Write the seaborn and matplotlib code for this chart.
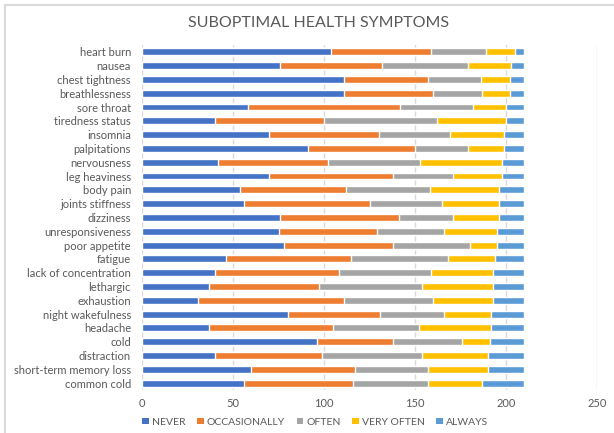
import matplotlib
matplotlib.use("Agg")
import matplotlib.pyplot as plt
import numpy as np
import pandas as pd
import seaborn as sns
from matplotlib.lines import Line2D
from matplotlib.patches import Patch

symptoms = [
    "heart burn", "nausea", "chest tightness", "breathlessness", "sore throat",
    "tiredness status", "insomnia", "palpitations", "nervousness", "leg heaviness",
    "body pain", "joints stiffness", "dizziness", "unresponsiveness", "poor appetite",
    "fatigue", "lack of concentration", "lethargic", "exhaustion", "night wakefulness",
    "headache", "cold", "distraction", "short-term memory loss", "common cold",
]
never = [104, 76, 111, 111, 58, 40, 70, 91, 42, 70, 54, 56, 76, 75, 78,
         46, 40, 37, 31, 80, 37, 96, 40, 60, 56]
occasionally = [55, 56, 46, 49, 84, 60, 60, 59, 60, 68, 58, 69, 65, 54, 60,
                69, 68, 60, 80, 51, 68, 42, 59, 57, 60]
often = [30, 47, 29, 27, 40, 62, 39, 29, 51, 33, 46, 40, 30, 37, 42,
         53, 51, 57, 49, 35, 47, 38, 55, 40, 41]
very_often = [16, 24, 16, 15, 18, 38, 30, 20, 45, 27, 38, 31, 25, 29, 15,
              26, 34, 39, 33, 26, 40, 15, 36, 33, 30]
always = [5, 7, 8, 8, 10, 10, 11, 11, 12, 12, 14, 14, 14, 15, 15,
          16, 17, 17, 17, 18, 18, 19, 20, 20, 23]
x_ticks = [0, 50, 100, 150, 200, 250]

series_names = ["NEVER", "OCCASIONALLY", "OFTEN", "VERY OFTEN", "ALWAYS"]
colors = ["#4472C4", "#ED7D31", "#A5A5A5", "#FFC000", "#5B9BD5"]

df = pd.DataFrame({
    "symptom": symptoms,
    "NEVER": never,
    "OCCASIONALLY": occasionally,
    "OFTEN": often,
    "VERY OFTEN": very_often,
    "ALWAYS": always,
})
cum = df[series_names].cumsum(axis=1)
cum["symptom"] = df["symptom"]

sns.set_theme(style="white")
plt.rcParams["font.family"] = ["Lato", "DejaVu Sans"]
text_color = "#595959"

fig = plt.figure(figsize=(6.14, 4.33), dpi=100)
ax = fig.add_axes([0.2313, 0.0993, 0.7410, 0.7970])

# draw cumulative layers from the widest down so they stack visually
for name, color in reversed(list(zip(series_names, colors))):
    sns.barplot(data=cum, x=name, y="symptom", order=symptoms, color=color,
                saturation=1, width=0.5, orient="h", ax=ax, zorder=3)

ax.set_xlim(0, 250)
ax.set_xticks(x_ticks)
ax.set_xticklabels([str(t) for t in x_ticks])
ax.set_xlabel("")
ax.set_ylabel("")
ax.grid(axis="x", color="#D9D9D9", linewidth=1, zorder=0)
ax.grid(axis="y", visible=False)
for side in ["left", "right", "top", "bottom"]:
    ax.spines[side].set_visible(False)
ax.tick_params(axis="both", length=0, colors=text_color, labelsize=8)
ax.tick_params(axis="y", pad=8)
ax.tick_params(axis="x", pad=6)

fig.text(0.5195, 0.947, "SUBOPTIMAL HEALTH SYMPTOMS", fontsize=11.5,
         color=text_color, ha="center", va="center")

handles = [Patch(facecolor=c, edgecolor="none", label=n) for n, c in zip(series_names, colors)]
ax.legend(handles=handles, loc="center", bbox_to_anchor=(0.381, -0.093), ncol=5,
          frameon=False, fontsize=7.5, labelcolor=text_color, handlelength=0.65,
          handleheight=0.65, handletextpad=0.3, columnspacing=1.1,
          borderpad=0, borderaxespad=0)

# chart frame: only the top and left edges fall inside the picture
fig.add_artist(Line2D([0.0081, 1.0], [0.9885, 0.9885], transform=fig.transFigure,
                      color="#D9D9D9", linewidth=1.5))
fig.add_artist(Line2D([0.0081, 0.0081], [0.0, 0.9885], transform=fig.transFigure,
                      color="#D9D9D9", linewidth=1.5))

fig.savefig("out.png", dpi=100)
plt.close(fig)
